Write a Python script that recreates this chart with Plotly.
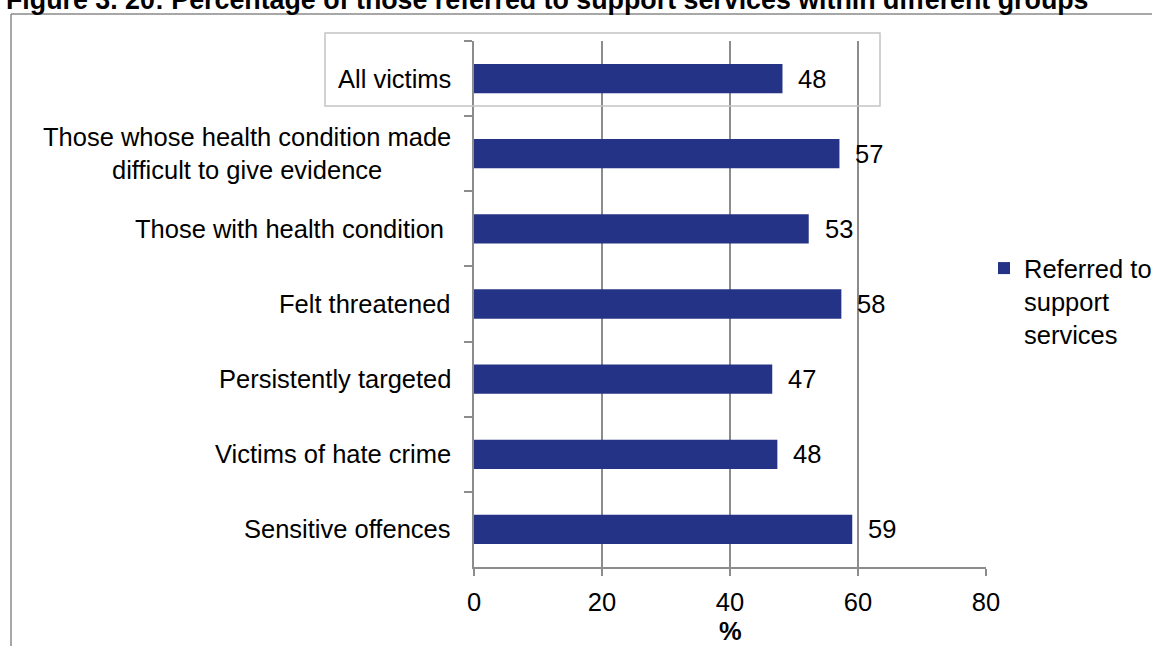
import plotly.graph_objects as go

categories = [
    "All victims",
    "Those whose health condition made<br>difficult to give evidence",
    "Those with health condition\u00a0",
    "Felt threatened",
    "Persistently targeted",
    "Victims of hate crime",
    "Sensitive offences",
]
# bar lengths
values = [48.2, 57.1, 52.3, 57.4, 46.6, 47.4, 59.1]
# data labels as printed on the chart
value_labels = ["48", "57", "53", "58", "47", "48", "59"]
series_name = "Referred to<br>support<br>services"
x_ticks = [0, 20, 40, 60, 80]
x_title = "%"
title_text = "Figure 3. 20: Percentage of those referred to support services within different groups"

BAR = "#243385"
GRID = "#8c8c8c"
FONT = "Liberation Sans, Arial, sans-serif"
FS = 25.5

W, H = 1152, 646
L, R, T, B = 474, 986, 41, 567

def px_x(p):
    return (p - L) / (R - L)

def px_y(p):
    return (B - p) / (B - T)

fig = go.Figure()
fig.add_trace(go.Bar(
    y=categories, x=values, orientation="h",
    marker=dict(color=BAR, line=dict(width=0)),
    width=0.39, name=series_name, showlegend=True,
))

annotations = []
for c, v, t in zip(categories, values, value_labels):
    annotations.append(dict(x=v, y=c, xref="x", yref="y", text=t,
                            showarrow=False, xanchor="left", xshift=14,
                            font=dict(size=FS, color="black", family=FONT)))
    annotations.append(dict(x=px_x(453), y=c, xref="paper", yref="y", text=c,
                            showarrow=False, xanchor="right", align="center",
                            font=dict(size=FS, color="black", family=FONT)))

annotations.append(dict(x=px_x(4), y=px_y(-0.5), xref="paper", yref="paper",
                        text="<b>" + title_text + "</b>", showarrow=False,
                        xanchor="left", yanchor="middle",
                        font=dict(size=26.8, color="black", family=FONT)))
annotations.append(dict(x=0.5, y=px_y(631), xref="paper", yref="paper",
                        text="<b>" + x_title + "</b>", showarrow=False,
                        xanchor="center", yanchor="middle",
                        font=dict(size=FS, color="black", family=FONT)))

shapes = [
    dict(type="line", xref="paper", yref="paper", x0=px_x(11), x1=px_x(1160),
         y0=px_y(14), y1=px_y(14), line=dict(color="#8a8a8a", width=1.5)),
    dict(type="line", xref="paper", yref="paper", x0=px_x(11), x1=px_x(11),
         y0=px_y(14), y1=px_y(660), line=dict(color="#8a8a8a", width=1.5)),
    dict(type="rect", xref="paper", yref="paper", x0=px_x(325), x1=px_x(880),
         y0=px_y(106), y1=px_y(33), line=dict(color="#c4c4c4", width=1.5)),
]

fig.update_layout(
    width=W, height=H,
    margin=dict(l=L, r=W - R, t=T, b=H - B, pad=0, autoexpand=False),
    paper_bgcolor="white", plot_bgcolor="white",
    font=dict(family=FONT, size=FS, color="black"),
    annotations=annotations,
    shapes=shapes,
    legend=dict(x=px_x(984), y=px_y(245), xanchor="left", yanchor="top",
                font=dict(size=FS, family=FONT, color="black"),
                valign="top", bgcolor="rgba(0,0,0,0)", itemwidth=30),
    xaxis=dict(range=[0, 80], tickvals=x_ticks, showgrid=True, gridcolor=GRID,
               gridwidth=1.5, showline=True, linecolor=GRID, linewidth=1.5,
               ticks="outside", ticklen=7, tickcolor=GRID, tickwidth=1.5,
               zeroline=False, tickfont=dict(size=FS, family=FONT),
               ticklabelstandoff=5, automargin=False),
    yaxis=dict(categoryorder="array", categoryarray=categories,
               autorange="reversed", showticklabels=False, automargin=False,
               showline=True, linecolor=GRID, linewidth=1.5,
               ticks="outside", ticklen=8, tickcolor=GRID, tickwidth=1.5,
               tickson="boundaries", showgrid=False, zeroline=False),
)

fig.write_html("out.html", config={"displayModeBar": False},
               post_script="document.body.style.margin='0';")
